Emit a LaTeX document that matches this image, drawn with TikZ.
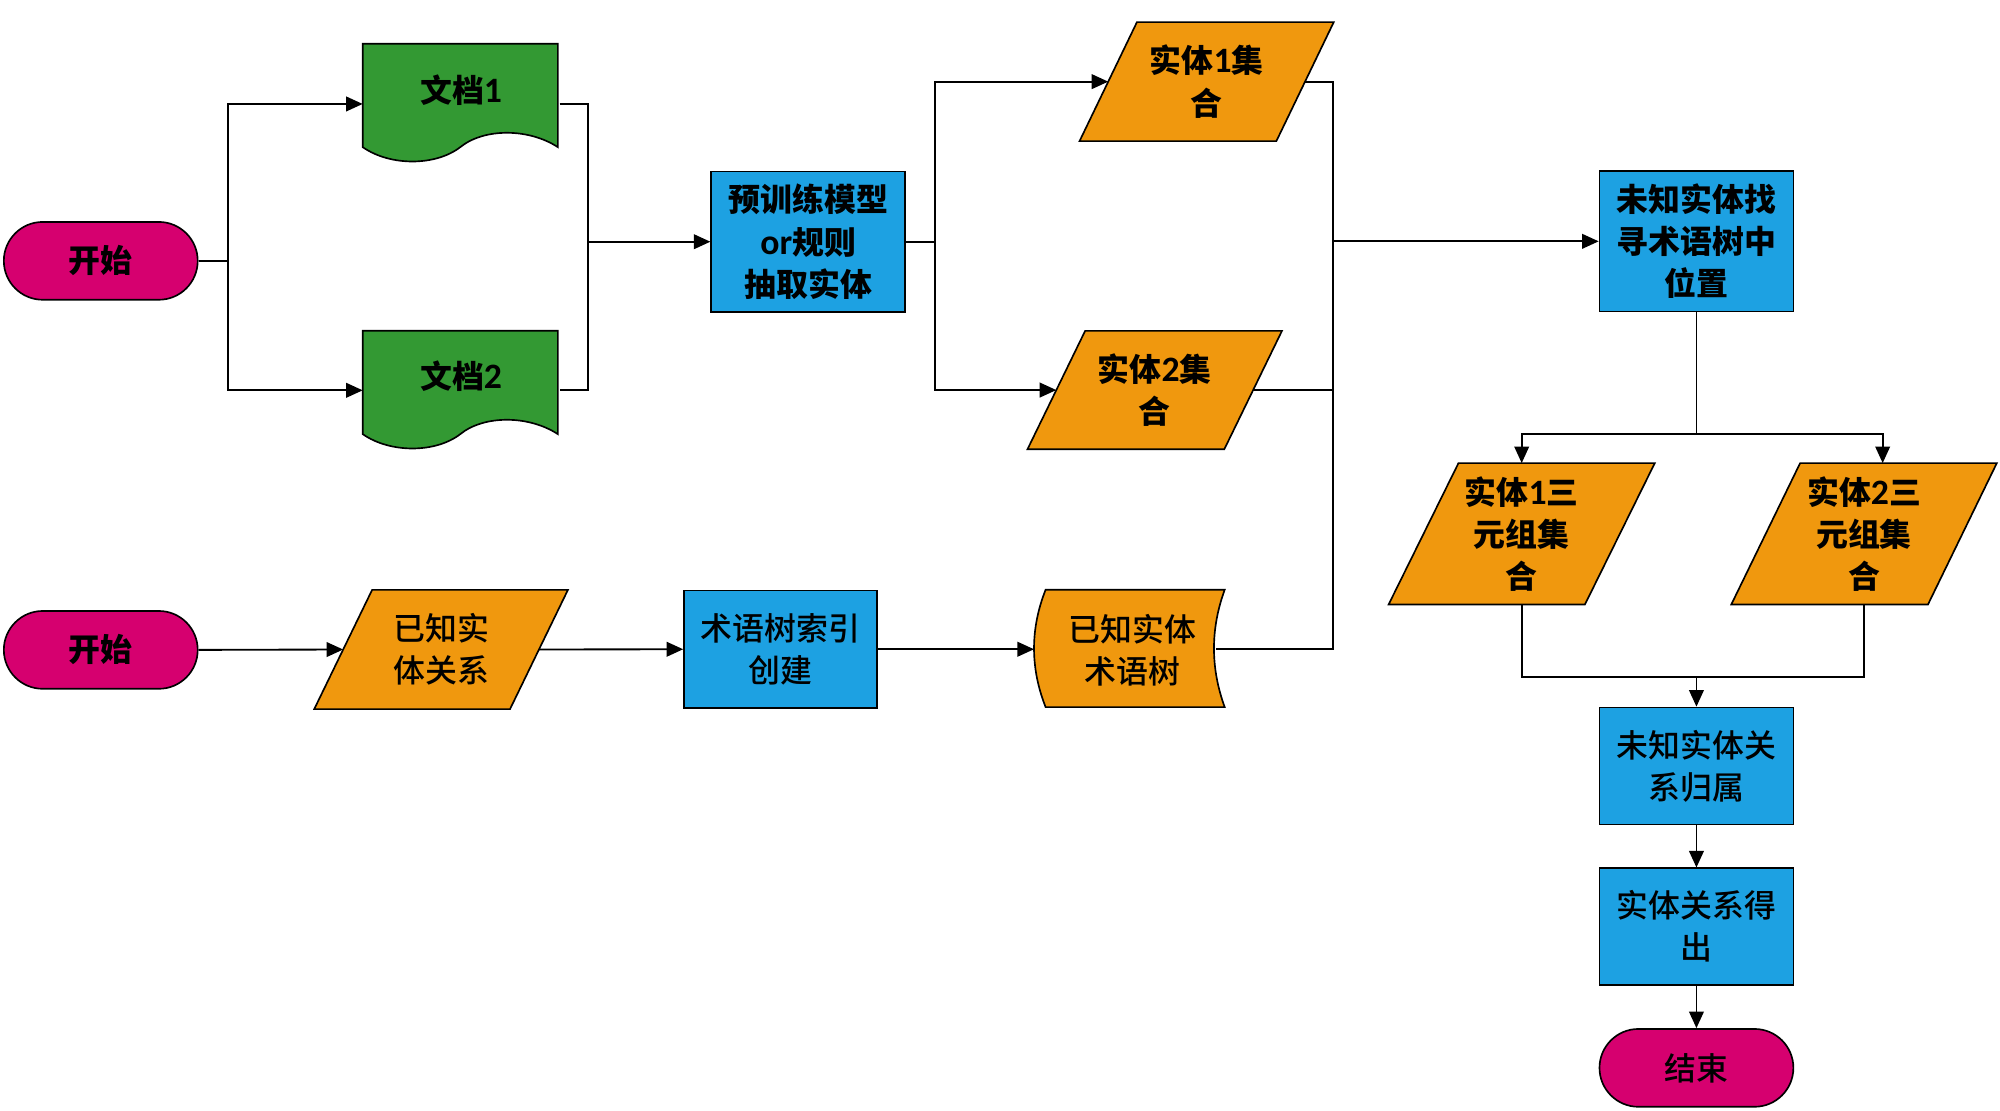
\documentclass[tikz,border=0pt]{standalone}
\usepackage{fontspec}
\setmainfont{Noto Sans CJK SC}
\newfontfamily\lat[Scale=1.12]{Carlito}
\newfontfamily\cjkmed{Noto Sans CJK SC Medium}
\usetikzlibrary{shapes.misc,arrows.meta,calc}
\pgfdeclarelayer{bg}
\pgfsetlayers{bg,main}
\definecolor{cpink}{RGB}{214,0,111}
\definecolor{cgreen}{RGB}{51,153,51}
\definecolor{corange}{RGB}{240,152,14}
\definecolor{cblue}{RGB}{29,161,226}
\newcommand\dg[1]{{\lat\bfseries #1}}
\newcommand\docshape[2]{\filldraw[fill=#2,line width=1.3pt,shift={(#1.north west)}] (0,0) -- (153,0) -- (153,81) .. controls (130,66) and (95,66) .. (76.5,81) .. controls (57,96) and (21.5,96) .. (0,81) -- cycle;}
\newcommand\parashape[3]{\filldraw[fill=#3,line width=1.3pt] ([xshift=#2pt]#1.north west) -- ([xshift=#2pt]#1.north east) -- ([xshift=-#2pt]#1.south east) -- ([xshift=-#2pt]#1.south west) -- cycle;}
\newcommand\storeshape[2]{\filldraw[fill=#2,line width=1.3pt,shift={(#1.north west)}] (9.1,0) -- (149.5,0) .. controls (138.3,30.7) and (138.3,61.3) .. (149.5,92) -- (9.1,92) .. controls (-3,61.3) and (-3,30.7) .. (9.1,0) -- cycle;}
\tikzset{
  base/.style={font=\fontsize{25}{33}\selectfont\bfseries, align=center, inner sep=0pt, line width=1.3pt},
  lt/.style={font=\fontsize{25}{33}\selectfont\cjkmed},
  term/.style={base, rounded rectangle, draw, fill=cpink, minimum width=152pt, minimum height=61pt},
  proc/.style={base, rectangle, draw, fill=cblue, minimum width=152pt},
  ghost/.style={base, rectangle, draw=none},
  conn/.style={line width=1.45pt},
  arr/.style={conn, -{Triangle[length=13pt,width=11.5pt]}}
}
\begin{document}
\begin{tikzpicture}[x=1pt,y=-1pt]
\useasboundingbox (0,0) rectangle (1568,871);
% ---- nodes ----
\node[term] (s1) at (79,204.5) {开始};
\node[term] (s2) at (79,509.5) {开始};
\node[ghost, minimum width=153pt, minimum height=93pt] (doc1) at (361.5,81.5) {};
\node[ghost] (doc1t) at (361.5,70.5) {文档\dg{1}};
\node[ghost, minimum width=153pt, minimum height=92pt] (doc2) at (361.5,306) {};
\node[ghost] (doc2t) at (361.5,295) {文档\dg{2}};
\node[proc, minimum height=110pt] (pre) at (633.6,189.5) {预训练模型\\\dg{or}规则\\抽取实体};
\node[ghost, minimum width=153pt, minimum height=92pt] (ent1) at (946,64) {实体\dg{1}集\\合};
\node[ghost, minimum width=153pt, minimum height=91.5pt] (ent2) at (905.3,305.8) {实体\dg{2}集\\合};
\node[proc, minimum height=110pt] (unk) at (1330,189.2) {未知实体找\\寻术语树中\\位置};
\node[ghost, minimum width=152.6pt, minimum height=109.6pt] (tri1) at (1193,418.5) {实体\dg{1}三\\元组集\\合};
\node[ghost, minimum width=152.9pt, minimum height=109.6pt] (tri2) at (1461.4,418.5) {实体\dg{2}三\\元组集\\合};
\node[ghost, lt, minimum width=152.2pt, minimum height=92.2pt] (kr) at (345.8,509.2) {已知实\\体关系};
\node[proc, lt, minimum width=151.5pt, minimum height=92pt] (idx) at (612,509) {术语树索引\\创建};
\node[ghost, minimum width=141.1pt, minimum height=92pt] (tree) at (881.85,509) {};
\node[ghost, lt] (treet) at (888,510) {已知实体\\术语树};
\node[proc, lt, minimum height=91.7pt] (rel) at (1330,600.5) {未知实体关\\系归属};
\node[proc, lt, minimum height=91.5pt] (out) at (1330,726.5) {实体关系得\\出};
\node[term, lt, minimum width=152pt] (endn) at (1330,837.2) {结束};
% ---- shapes on background ----
\begin{pgfonlayer}{bg}
\docshape{doc1}{cgreen}
\docshape{doc2}{cgreen}
\parashape{ent1}{22.5}{corange}
\parashape{ent2}{22.6}{corange}
\parashape{kr}{22.7}{corange}
\parashape{tri1}{27.4}{corange}
\parashape{tri2}{27}{corange}
\storeshape{tree}{corange}
\end{pgfonlayer}
% ---- connectors ----
\coordinate (b1) at (178.5,204.5);
\draw[conn] (s1.east) -- (b1);
\draw[arr] (b1) |- (doc1.west);
\draw[arr] (b1) |- (doc2.west);
\coordinate (m1) at (461,189.5);
\draw[conn] (doc1.east) -| (m1) |- (doc2.east);
\draw[arr] (m1) -- (pre.west);
\coordinate (b2) at (733,189.5);
\draw[conn] (pre.east) -- (b2);
\draw[arr] (b2) |- (ent1.west);
\draw[arr] (b2) |- (ent2.west);
\coordinate (m2) at (1045,189.2);
\draw[conn] (ent1.east) -| (m2) |- (tree.east);
\draw[conn] (ent2.east) -- (ent2.east -| m2);
\draw[arr] (m2) -- (unk.west);
\coordinate (sp) at (1330,340);
\coordinate (sp2) at (1476,340);
\draw[conn] (unk.south) -- (sp);
\draw[arr] (sp) -| (tri1.north);
\draw[arr] (sp) -| (tri2.north -| sp2);
\coordinate (jn) at (1330,530.5);
\draw[conn] (tri1.south) |- (jn);
\draw[conn] (tri2.south) |- (jn);
\draw[arr] (jn) -- (rel.north);
\draw[arr] (rel.south) -- (out.north);
\draw[arr] (out.south) -- (endn.north);
\draw[arr] (s2.east) -- (kr.west);
\draw[arr] (kr.east) -- (idx.west);
\draw[arr] (idx.east) -- (tree.west);
\end{tikzpicture}
\end{document}
